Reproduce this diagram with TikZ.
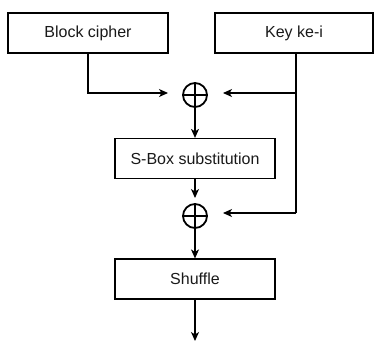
\documentclass[tikz,border=0pt]{standalone}
\usepackage{fontspec}
\setmainfont{Liberation Sans}
\usetikzlibrary{arrows.meta}
\begin{document}
\begin{tikzpicture}[x=1pt,y=-1pt,
  box/.style={draw=black,line width=1.2pt,minimum width=160pt,minimum height=40pt,
              inner sep=0pt,font=\fontsize{16}{19}\selectfont,text=black!90},
  xorop/.style={circle,draw=black,line width=1.8pt,minimum size=24pt,inner sep=0pt,
                path picture={\draw[line width=1.8pt]
                  (path picture bounding box.north) -- (path picture bounding box.south)
                  (path picture bounding box.west) -- (path picture bounding box.east);}},
  flow/.style={line width=1.2pt,-{Stealth[length=9pt,width=8pt,inset=2.5pt]}},
  wire/.style={line width=1.2pt}]
\useasboundingbox (0,0) rectangle (374,341);

% blocks
\node[box] (cipher) at (88,33) {Block cipher};
\node[box,minimum width=158pt] (key) at (294,33) {Key ke-i};
\node[box] (sbox) at (195,158.5) {S-Box substitution};
\node[box] (shuffle) at (195,279) {Shuffle};

% XOR operators
\node[xorop] (x1) at (195,95) {};
\node[xorop] (x2) at (195,216) {};

% connector ends and bends
\coordinate (cbend) at (88,93);
\coordinate (x1l) at (168,93);
\coordinate (x1r) at (223,93);
\coordinate (ktap) at (296,93);
\coordinate (ktop) at (296,53);
\coordinate (kbend) at (296,213);
\coordinate (x2r) at (223,213);
\coordinate (x2in) at (195,198);
\coordinate (out) at (195,341);

% cipher input into the first XOR
\draw[flow] (cipher.south) -- (cbend) -- (x1l);
% key line feeding both XORs
\draw[wire] (ktop) -- (kbend);
\draw[flow] (ktap) -- (x1r);
\draw[flow] (kbend) -- (x2r);
% main data path
\draw[flow] (x1.south) -- (sbox.north);
\draw[flow] (sbox.south) -- (x2in);
\draw[flow] (x2.south) -- (shuffle.north);
\draw[flow] (shuffle.south) -- (out);
\end{tikzpicture}
\end{document}
